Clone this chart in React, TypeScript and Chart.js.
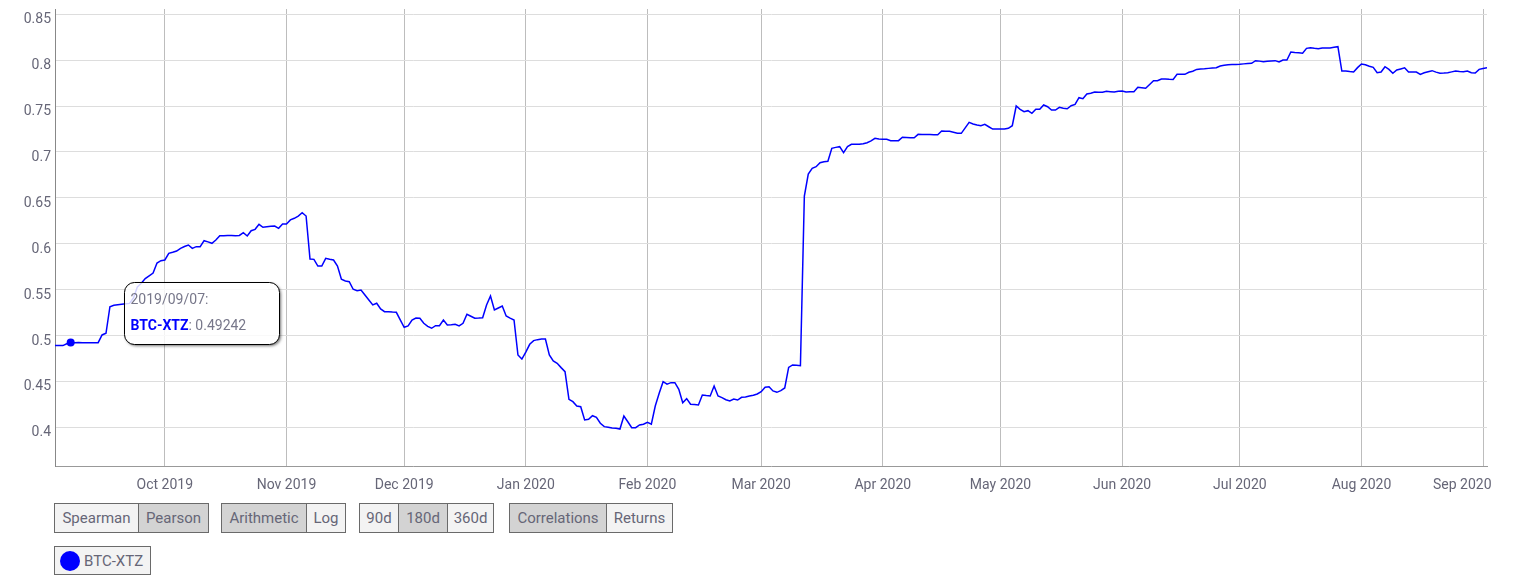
import React, { useEffect, useRef } from "react";
import { Chart, registerables } from "chart.js";

Chart.register(...registerables);

const START_DATE = "2019-09-03";
const SERIES_NAME = "BTC-XTZ";

// daily correlation values from START_DATE
const VALUES = [
  0.489, 0.489, 0.489, 0.491, 0.49242, 0.4922, 0.4923, 0.4922, 0.4922, 0.4922,
  0.4922, 0.4922, 0.5006, 0.5024, 0.5314, 0.533, 0.5335, 0.534, 0.5345, 0.535,
  0.541, 0.553, 0.557, 0.562, 0.565, 0.568, 0.579, 0.5815, 0.5823, 0.5896,
  0.5907, 0.592, 0.595, 0.597, 0.5986, 0.595, 0.5968, 0.5968, 0.6033, 0.602,
  0.6005, 0.604, 0.6088, 0.6088, 0.609, 0.609, 0.6088, 0.609, 0.612, 0.6084,
  0.6142, 0.6157, 0.6212, 0.6179, 0.6185, 0.619, 0.6193, 0.6168, 0.6215, 0.6215,
  0.626, 0.6277, 0.6302, 0.6338, 0.6302, 0.5834, 0.583, 0.5757, 0.5757, 0.5841,
  0.583, 0.5823, 0.5757, 0.5613, 0.5594, 0.5587, 0.5504, 0.5488, 0.5496, 0.5441,
  0.5387, 0.5333, 0.5351, 0.5289, 0.526, 0.5258, 0.5255, 0.5253, 0.517, 0.509,
  0.5104, 0.5169, 0.5191, 0.5188, 0.5133, 0.51, 0.5079, 0.5107, 0.5107, 0.5169,
  0.5115, 0.5118, 0.5122, 0.5104, 0.5133, 0.5231, 0.521, 0.5188, 0.519, 0.5194,
  0.5333, 0.5431, 0.5278, 0.53, 0.5322, 0.5213, 0.519, 0.5169, 0.4788, 0.4744,
  0.482, 0.4904, 0.4944, 0.4955, 0.4962, 0.4962, 0.4788, 0.4722, 0.4697, 0.465,
  0.4606, 0.4305, 0.4279, 0.4232, 0.4224, 0.408, 0.4087, 0.4126, 0.4109, 0.4044,
  0.4007, 0.4, 0.3992, 0.3989, 0.3981, 0.4123, 0.406, 0.3996, 0.3996, 0.4025,
  0.4033, 0.4054, 0.4033, 0.4232, 0.437, 0.4497, 0.4469, 0.4486, 0.4486, 0.4414,
  0.4268, 0.4312, 0.4251, 0.4247, 0.4243, 0.4352, 0.4346, 0.4341, 0.445, 0.4341,
  0.4323, 0.43, 0.4287, 0.4308, 0.4297, 0.4327, 0.433, 0.434, 0.435, 0.4363,
  0.4388, 0.4436, 0.4442, 0.4396, 0.4381, 0.44, 0.4428, 0.4652, 0.4679, 0.4675,
  0.4671, 0.652, 0.676, 0.6822, 0.684, 0.6883, 0.6894, 0.6898, 0.704, 0.705,
  0.7058, 0.6993, 0.7058, 0.7083, 0.7083, 0.7083, 0.709, 0.7101, 0.712, 0.7149,
  0.7141, 0.714, 0.7138, 0.7123, 0.7123, 0.7123, 0.716, 0.7158, 0.7155, 0.7155,
  0.7192, 0.7191, 0.719, 0.719, 0.7189, 0.7188, 0.7228, 0.7227, 0.7225, 0.7215,
  0.7203, 0.7203, 0.7263, 0.7323, 0.7305, 0.7295, 0.7286, 0.7301, 0.7275, 0.725,
  0.725, 0.725, 0.725, 0.7258, 0.7286, 0.7501, 0.7465, 0.7439, 0.745, 0.7421,
  0.7465, 0.7465, 0.7512, 0.7493, 0.7457, 0.7457, 0.7487, 0.7476, 0.7471, 0.7504,
  0.7519, 0.7591, 0.758, 0.7632, 0.7639, 0.7653, 0.7651, 0.765, 0.7661, 0.7657,
  0.7653, 0.7661, 0.7664, 0.7653, 0.7655, 0.7657, 0.7705, 0.77, 0.7694, 0.7735,
  0.7776, 0.7776, 0.7795, 0.7794, 0.7792, 0.7791, 0.7846, 0.7846, 0.7846, 0.7868,
  0.788, 0.79, 0.7905, 0.7907, 0.7911, 0.7915, 0.7918, 0.7937, 0.7944, 0.7951,
  0.7953, 0.7954, 0.7955, 0.796, 0.7963, 0.7966, 0.7995, 0.799, 0.7984, 0.7988,
  0.7992, 0.7995, 0.798, 0.8002, 0.8002, 0.8089, 0.8084, 0.808, 0.8075, 0.8129,
  0.8136, 0.813, 0.8125, 0.8133, 0.8133, 0.8133, 0.814, 0.8147, 0.7882, 0.7882,
  0.7876, 0.7871, 0.7919, 0.7958, 0.7951, 0.7935, 0.7922, 0.7864, 0.7871, 0.7929,
  0.79, 0.7857, 0.7893, 0.7905, 0.7918, 0.7871, 0.7871, 0.7871, 0.7846, 0.7864,
  0.7875, 0.7886, 0.787, 0.7857, 0.786, 0.7864, 0.7873, 0.7882, 0.7878, 0.7875,
  0.7882, 0.7864, 0.786, 0.79, 0.791, 0.7918,
];

const MONTH_TICK_DATES = [
  "2019-10-01", "2019-11-01", "2019-12-01", "2020-01-01", "2020-02-01", "2020-03-01",
  "2020-04-01", "2020-05-01", "2020-06-01", "2020-07-01", "2020-08-01", "2020-09-01",
];
const MONTH_TICK_LABELS = [
  "Oct 2019", "Nov 2019", "Dec 2019", "Jan 2020", "Feb 2020", "Mar 2020",
  "Apr 2020", "May 2020", "Jun 2020", "Jul 2020", "Aug 2020", "Sep 2020",
];
const Y_TICKS = [0.4, 0.45, 0.5, 0.55, 0.6, 0.65, 0.7, 0.75, 0.8, 0.85];
const Y_MIN = 0.3578;
const Y_MAX = 0.8558;
const TOOLTIP_INDEX = 4;

const BUTTON_GROUPS = [
  { left: 54, cells: [{ label: "Spearman", w: 83, on: false }, { label: "Pearson", w: 70, on: true }] },
  { left: 221, cells: [{ label: "Arithmetic", w: 84, on: true }, { label: "Log", w: 39, on: false }] },
  { left: 359, cells: [{ label: "90d", w: 38, on: false }, { label: "180d", w: 49, on: true }, { label: "360d", w: 46, on: false }] },
  { left: 509, cells: [{ label: "Correlations", w: 96, on: true }, { label: "Returns", w: 66, on: false }] },
];

const DAY_MS = 86400000;
const toUTC = (iso: string) => Date.parse(iso + "T00:00:00Z");
const dayOffset = (iso: string) => Math.round((toUTC(iso) - toUTC(START_DATE)) / DAY_MS);
const fmtDate = (idx: number) => {
  const d = new Date(toUTC(START_DATE) + idx * DAY_MS);
  const p = (n: number) => String(n).padStart(2, "0");
  return `${d.getUTCFullYear()}/${p(d.getUTCMonth() + 1)}/${p(d.getUTCDate())}`;
};

const TEXT_COLOR = "#666677";
const FONT = "Roboto";

const tooltipPlugin = {
  id: "staticTooltip",
  afterDatasetsDraw(chart: any) {
    const meta = chart.getDatasetMeta(0);
    const pt = meta.data[TOOLTIP_INDEX];
    if (!pt) return;
    const ctx = chart.ctx as CanvasRenderingContext2D;
    const x = pt.x;
    const y = pt.y;
    ctx.save();
    ctx.beginPath();
    ctx.arc(x, y, 4, 0, Math.PI * 2);
    ctx.fillStyle = "#0000ff";
    ctx.fill();

    const bx = Math.round(x + 53) + 0.5;
    const by = Math.round(y - 60) + 0.5;
    const bw = 155;
    const bh = 62;
    const r = 10;
    const path = () => {
      ctx.beginPath();
      ctx.moveTo(bx + r, by);
      ctx.lineTo(bx + bw - r, by);
      ctx.arcTo(bx + bw, by, bx + bw, by + r, r);
      ctx.lineTo(bx + bw, by + bh - r);
      ctx.arcTo(bx + bw, by + bh, bx + bw - r, by + bh, r);
      ctx.lineTo(bx + r, by + bh);
      ctx.arcTo(bx, by + bh, bx, by + bh - r, r);
      ctx.lineTo(bx, by + r);
      ctx.arcTo(bx, by, bx + r, by, r);
      ctx.closePath();
    };
    ctx.save();
    ctx.beginPath();
    ctx.rect(0, 0, chart.width, chart.height);
    ctx.moveTo(bx + r, by);
    ctx.arcTo(bx, by, bx, by + r, r);
    ctx.lineTo(bx, by + bh - r);
    ctx.arcTo(bx, by + bh, bx + r, by + bh, r);
    ctx.lineTo(bx + bw - r, by + bh);
    ctx.arcTo(bx + bw, by + bh, bx + bw, by + bh - r, r);
    ctx.lineTo(bx + bw, by + r);
    ctx.arcTo(bx + bw, by, bx + bw - r, by, r);
    ctx.closePath();
    ctx.clip("evenodd");
    path();
    ctx.shadowColor = "rgba(0,0,0,0.55)";
    ctx.shadowOffsetX = 1.5;
    ctx.shadowOffsetY = 1.5;
    ctx.shadowBlur = 3;
    ctx.fillStyle = "#000";
    ctx.fill();
    ctx.restore();

    path();
    ctx.fillStyle = "rgba(255,255,255,0.82)";
    ctx.fill();
    ctx.lineWidth = 1;
    ctx.strokeStyle = "#000";
    ctx.stroke();

    ctx.textBaseline = "middle";
    ctx.textAlign = "left";
    ctx.font = `14px ${FONT}`;
    ctx.fillStyle = "#77778a";
    ctx.fillText(fmtDate(TOOLTIP_INDEX) + ":", bx + 6, y - 42);
    ctx.font = `bold 14px ${FONT}`;
    ctx.fillStyle = "#0000ff";
    ctx.fillText(SERIES_NAME, bx + 6, y - 16);
    const w = ctx.measureText(SERIES_NAME).width;
    ctx.font = `14px ${FONT}`;
    ctx.fillStyle = "#77778a";
    ctx.fillText(": " + VALUES[TOOLTIP_INDEX].toFixed(5), bx + 6 + w, y - 16);
    ctx.restore();
  },
};

function ButtonGroup({ left, cells }: { left: number; cells: { label: string; w: number; on: boolean }[] }) {
  return (
    <div
      style={{
        position: "absolute",
        left,
        top: 503,
        height: 30,
        display: "flex",
        border: "1px solid #6a6a6a",
        boxSizing: "border-box",
      }}
    >
      {cells.map((c, i) => (
        <div
          key={c.label}
          style={{
            width: c.w,
            boxSizing: "border-box",
            borderLeft: i === 0 ? "none" : "1px solid #6a6a6a",
            background: c.on ? "#d3d3d3" : "#f3f3f3",
            display: "flex",
            alignItems: "center",
            justifyContent: "center",
            fontFamily: FONT,
            fontSize: 15,
            color: TEXT_COLOR,
            whiteSpace: "nowrap",
          }}
        >
          {c.label}
        </div>
      ))}
    </div>
  );
}

export default function App() {
  const canvasRef = useRef<HTMLCanvasElement | null>(null);

  useEffect(() => {
    if (!canvasRef.current) return;
    const monthOffsets = MONTH_TICK_DATES.map(dayOffset);
    const lastIdx = MONTH_TICK_LABELS.length - 1;
    const chart = new Chart(canvasRef.current, {
      type: "line",
      data: {
        datasets: [
          {
            label: SERIES_NAME,
            data: VALUES.map((v, i) => ({ x: i, y: v })),
            borderColor: "#0000ff",
            borderWidth: 1.5,
            pointRadius: 0,
            tension: 0,
            fill: false,
          },
        ],
      },
      options: {
        animation: false,
        responsive: false,
        maintainAspectRatio: false,
        events: [],
        layout: { padding: { top: 9, right: 26, left: 0, bottom: 0 } },
        plugins: { legend: { display: false }, tooltip: { enabled: false } },
        scales: {
          x: {
            type: "linear",
            min: 0,
            max: VALUES.length - 1,
            afterBuildTicks: (s: any) => {
              s.ticks = monthOffsets.map((v) => ({ value: v }));
            },
            afterFit: (s: any) => {
              s.height = 29;
              s.paddingLeft = 0;
              s.paddingRight = 0;
            },
            grid: { color: "#bdbdbd", drawTicks: false, lineWidth: 1 },
            border: { color: "#999999", width: 1 },
            ticks: {
              autoSkip: false,
              maxRotation: 0,
              padding: 11,
              color: TEXT_COLOR,
              font: { family: FONT, size: 14 },
              // the last label is kept inside the canvas edge, as in the original
              callback: (_v: any, i: number) =>
                i === lastIdx ? MONTH_TICK_LABELS[i] + " ".repeat(12) : MONTH_TICK_LABELS[i],
            },
          },
          y: {
            type: "linear",
            min: Y_MIN,
            max: Y_MAX,
            afterBuildTicks: (s: any) => {
              s.ticks = Y_TICKS.map((v) => ({ value: v }));
            },
            afterFit: (s: any) => {
              s.width = 55;
              s.paddingTop = 0;
              s.paddingBottom = 0;
            },
            grid: { color: "#dddddd", drawTicks: false, lineWidth: 1 },
            border: { color: "#888888", width: 1 },
            ticks: {
              padding: 4,
              labelOffset: 5.5,
              color: TEXT_COLOR,
              font: { family: FONT, size: 14 },
              callback: (_v: any, i: number) => String(Y_TICKS[i]),
            },
          },
        },
      },
      plugins: [tooltipPlugin],
    });
    return () => chart.destroy();
  }, []);

  return (
    <div style={{ position: "absolute", left: 0, top: 0, width: 1513, height: 586, overflow: "hidden", background: "#fff" }}>
      <canvas
        ref={canvasRef}
        width={1513}
        height={495}
        style={{ position: "absolute", left: 0, top: 0, width: 1513, height: 495 }}
      />
      {BUTTON_GROUPS.map((g) => (
        <ButtonGroup key={g.left} left={g.left} cells={g.cells} />
      ))}
      <div
        style={{
          position: "absolute",
          left: 54,
          top: 546,
          width: 97,
          height: 29,
          boxSizing: "border-box",
          border: "1px solid #6a6a6a",
          background: "#f3f3f3",
          display: "flex",
          alignItems: "center",
          fontFamily: FONT,
          fontSize: 15,
          color: TEXT_COLOR,
        }}
      >
        <span
          style={{
            display: "inline-block",
            width: 20,
            height: 20,
            borderRadius: "50%",
            background: "#0000ff",
            marginLeft: 5,
            marginRight: 4,
            flex: "none",
          }}
        />
        {SERIES_NAME}
      </div>
    </div>
  );
}
